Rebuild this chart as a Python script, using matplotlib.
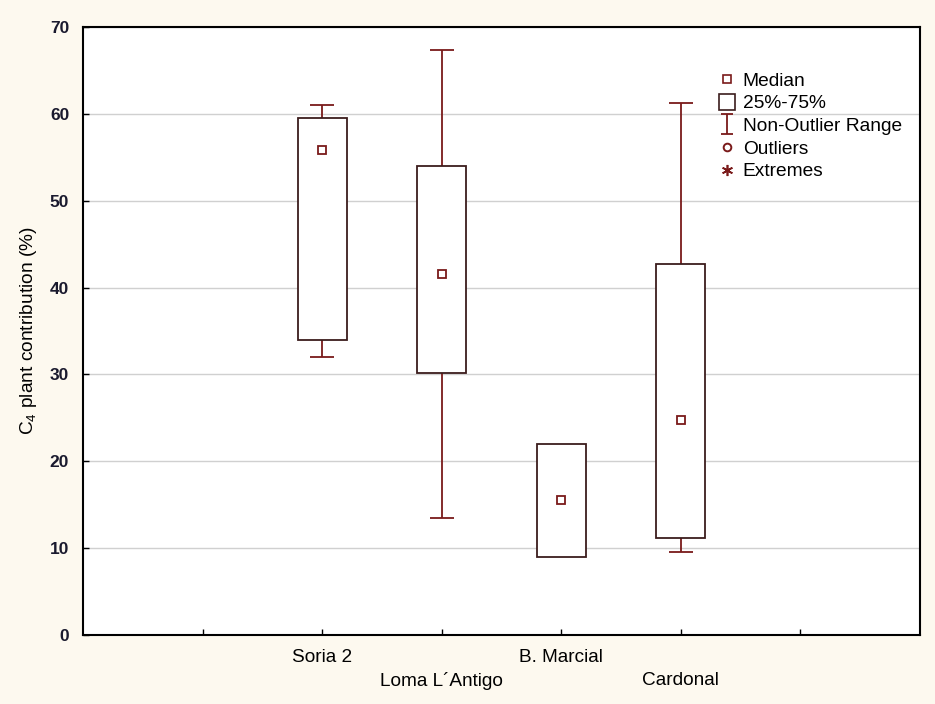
import matplotlib.pyplot as plt
from matplotlib.lines import Line2D
from matplotlib.path import Path
import numpy as np

plt.rcParams['font.family'] = ['Liberation Sans', 'DejaVu Sans']
plt.rcParams['mathtext.fontset'] = 'custom'
plt.rcParams['mathtext.rm'] = 'Liberation Sans'
plt.rcParams['mathtext.it'] = 'Liberation Sans:italic'

# data
sites = ['Soria 2', 'Loma L´Antigo', 'B. Marcial', 'Cardonal']
q1 = [34.0, 30.2, 9.0, 11.2]
q3 = [59.5, 54.0, 22.0, 42.7]
medians = [55.8, 41.6, 15.5, 24.7]
whis_lo = [32.0, 13.5, 9.0, 9.6]
whis_hi = [61.0, 67.3, 22.0, 61.3]

box_col = '#3b1c1c'
whis_col = '#7a1a1a'

fig = plt.figure(figsize=(9.35, 7.04), dpi=100, facecolor='#fdf9ef')
ax = fig.add_axes([0.0888, 0.098, 0.8952, 0.8636])
ax.set_facecolor('white')

pos = np.arange(2, 2 + len(sites))
bw = 0.41
cw = 0.2

# whiskers and caps (skip where whisker sits on the box edge)
for x, lo, hi, a, b in zip(pos, whis_lo, whis_hi, q1, q3):
    if lo < a:
        ax.vlines(x, lo, a, color=whis_col, lw=1.3, zorder=3)
        ax.hlines(lo, x - cw / 2, x + cw / 2, color=whis_col, lw=1.3, zorder=3)
    if hi > b:
        ax.vlines(x, b, hi, color=whis_col, lw=1.3, zorder=3)
        ax.hlines(hi, x - cw / 2, x + cw / 2, color=whis_col, lw=1.3, zorder=3)

# boxes
ax.bar(pos, np.array(q3) - np.array(q1), bottom=q1, width=bw,
       facecolor='white', edgecolor=box_col, lw=1.3, zorder=4)

# medians
ax.plot(pos, medians, ls='none', marker='s', ms=6, mfc='white',
        mec=whis_col, mew=1.3, zorder=5)

ax.set_xlim(0, 7)
ax.set_ylim(0, 70)
ax.set_yticks(np.arange(0, 71, 10))
ax.yaxis.grid(True, color='#d0d0d0', lw=1.0, zorder=0)
ax.set_axisbelow(True)

ax.set_xticks(np.arange(1, 7))
ax.set_xticklabels(['', 'Soria 2', '\nLoma L´Antigo', 'B. Marcial', '\nCardonal', ''],
                   fontsize=13.7)
for lab in ax.get_xticklabels():
    lab.set_linespacing(1.45)
ax.tick_params(axis='x', direction='in', length=4, width=1, pad=10)
ax.tick_params(axis='y', direction='in', length=4, width=1, pad=10,
               labelsize=12.5, labelcolor='#1a1a2e')
for lab in ax.get_yticklabels():
    lab.set_fontweight('bold')

for s in ax.spines.values():
    s.set_linewidth(1.5)
    s.set_color('black')

ax.set_ylabel('C$_4$ plant contribution (%)', fontsize=13.8, labelpad=8)

# legend
ibeam = Path([(-0.6, 1), (0.6, 1), (0, 1), (0, -1), (-0.6, -1), (0.6, -1)],
             [Path.MOVETO, Path.LINETO, Path.MOVETO, Path.LINETO,
              Path.MOVETO, Path.LINETO])
handles = [
    Line2D([], [], ls='none', marker='s', ms=6, mfc='white', mec=whis_col, mew=1.2),
    Line2D([], [], ls='none', marker='s', ms=11, mfc='white', mec=box_col, mew=1.2),
    Line2D([], [], ls='none', marker=ibeam, ms=14, mfc='none', mec=whis_col, mew=1.3),
    Line2D([], [], ls='none', marker='o', ms=5.5, mfc='white', mec=whis_col, mew=1.4),
    Line2D([], [], ls='none', marker=(6, 2, 0), ms=8, color=whis_col, mew=1.2),
]
labels = ['Median', '25%-75%', 'Non-Outlier Range', 'Outliers', 'Extremes']
ax.legend(handles, labels, loc='upper left', bbox_to_anchor=(0.747, 0.941),
          frameon=False, fontsize=13.8, handlelength=1.0, handletextpad=0.3,
          labelspacing=0.27, borderpad=0)

fig.savefig('out.png', dpi=100, facecolor=fig.get_facecolor())
